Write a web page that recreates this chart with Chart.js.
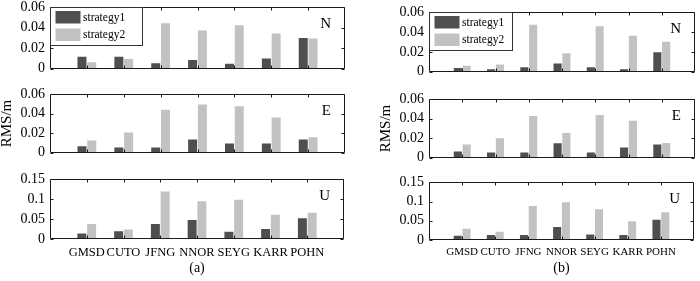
<!DOCTYPE html>
<html>
<head>
<meta charset="utf-8">
<script src="https://cdn.jsdelivr.net/npm/chart.js@4.4.1/dist/chart.umd.min.js"></script>
<style>
  html, body { margin: 0; padding: 0; background: #fff; }
  body { width: 700px; height: 281px; position: relative; overflow: hidden; }
  .cell { position: absolute; }
  canvas { display: block; }
</style>
</head>
<body>
<script>
// stations on the x axis
const stations = ['GMSD', 'CUTO', 'JFNG', 'NNOR', 'SEYG', 'KARR', 'POHN'];
const seriesNames = ['strategy1', 'strategy2'];

// y tick values
const smallTicks = [0, 0.02, 0.04, 0.06];
const bigTicks = [0, 0.05, 0.1, 0.15];

// panel (a) RMS values, m
const aN1 = [0.0115, 0.0115, 0.0053, 0.0085, 0.0047, 0.0100, 0.0300];
const aN2 = [0.0062, 0.0094, 0.0444, 0.0374, 0.0426, 0.0344, 0.0294];
const aE1 = [0.0065, 0.0052, 0.0052, 0.0135, 0.0095, 0.0095, 0.0135];
const aE2 = [0.0126, 0.0206, 0.0443, 0.0495, 0.0478, 0.0363, 0.0157];
const aU1 = [0.014, 0.0195, 0.0375, 0.0477, 0.018, 0.025, 0.052];
const aU2 = [0.0375, 0.024, 0.1195, 0.095, 0.099, 0.061, 0.066];

// panel (b) RMS values, m
const bN1 = [0.0036, 0.0024, 0.0045, 0.0082, 0.0045, 0.0024, 0.0197];
const bN2 = [0.0060, 0.0073, 0.0476, 0.0185, 0.0460, 0.0364, 0.0303];
const bE1 = [0.0064, 0.0052, 0.0052, 0.0147, 0.0052, 0.0104, 0.0135];
const bE2 = [0.0135, 0.0200, 0.0429, 0.0254, 0.0440, 0.0380, 0.0150];
const bU1 = [0.011, 0.0128, 0.0128, 0.0336, 0.0144, 0.0128, 0.0528];
const bU2 = [0.0296, 0.0216, 0.0888, 0.0984, 0.080, 0.0488, 0.072];

const darkGrey = '#4f4f4f';
const lightGrey = '#c2c2c2';

Chart.defaults.font.family = '"Liberation Serif", "Times New Roman", serif';
Chart.defaults.color = '#000';

// box around the plot with inward ticks on all four sides
const frame = {
    id: 'frame',
    afterDatasetsDraw(chart) {
        const { ctx, chartArea: a, scales: { x, y } } = chart;
        const L = Math.round(a.left) + 0.5, R = Math.round(a.right) - 0.5;
        const T = Math.round(a.top) + 0.5, B = Math.round(a.bottom) - 0.5;
        ctx.save();
        ctx.strokeStyle = '#1a1a1a';
        ctx.lineWidth = 1;
        ctx.beginPath();
        ctx.rect(L, T, R - L, B - T);
        stations.forEach((s, i) => {
            const px = Math.round(x.getPixelForValue(i + 1)) + 0.5;
            ctx.moveTo(px, T); ctx.lineTo(px, T + 3);
            ctx.moveTo(px, B); ctx.lineTo(px, B - 3);
        });
        y.ticks.forEach(t => {
            const py = Math.round(y.getPixelForValue(t.value)) + 0.5;
            ctx.moveTo(L, py); ctx.lineTo(L + 3, py);
            ctx.moveTo(R, py); ctx.lineTo(R - 3, py);
        });
        ctx.stroke();
        ctx.restore();
    }
};

// N / E / U letter in the top right corner
const cornerTag = {
    id: 'cornerTag',
    afterDraw(chart, args, opts) {
        const { ctx, chartArea: a } = chart;
        ctx.save();
        ctx.font = '15px "Liberation Serif"';
        ctx.fillStyle = '#000';
        ctx.textAlign = 'right';
        ctx.textBaseline = 'middle';
        ctx.fillText(opts.text, a.right - 14, a.top + 16.5);
        ctx.restore();
    }
};

// matlab-like legend box in the top left corner
const boxLegend = {
    id: 'boxLegend',
    afterDraw(chart, args, opts) {
        if (!opts.width) return;
        const { ctx, chartArea: a } = chart;
        const x0 = Math.round(a.left) + 0.5, y0 = Math.round(a.top) + 0.5;
        ctx.save();
        ctx.fillStyle = '#fff';
        ctx.fillRect(x0, y0, opts.width, 38);
        ctx.strokeStyle = '#333';
        ctx.lineWidth = 1;
        ctx.strokeRect(x0, y0, opts.width, 38);
        ctx.font = '11.5px "Liberation Serif"';
        ctx.textBaseline = 'middle';
        chart.data.datasets.forEach((ds, i) => {
            const sy = y0 + 3.5 + i * 17.5;
            ctx.fillStyle = ds.backgroundColor;
            ctx.fillRect(x0 + 5, sy, 25, 12.5);
            ctx.fillStyle = '#000';
            ctx.fillText(ds.label, x0 + 32.5, sy + 6.5);
        });
        ctx.restore();
    }
};

const panels = [
    { left: 0, top: -6, width: 350, height: 88, s1: aN1, s2: aN2, yt: smallTicks, tag: 'N', legend: 92 },
    { left: 0, top: 81, width: 350, height: 85, s1: aE1, s2: aE2, yt: smallTicks, tag: 'E', ylabel: 'RMS/m' },
    { left: 0, top: 166, width: 350, height: 115, s1: aU1, s2: aU2, yt: bigTicks, tag: 'U', xlab: '(a)', xh: 42, cat: 12.5 },
    { left: 379, top: -1, width: 321, height: 86, s1: bN1, s2: bN2, yt: smallTicks, tag: 'N', legend: 83 },
    { left: 379, top: 86, width: 321, height: 85, s1: bE1, s2: bE2, yt: smallTicks, tag: 'E', ylabel: 'RMS/m' },
    { left: 379, top: 169, width: 321, height: 112, s1: bU1, s2: bU2, yt: bigTicks, tag: 'U', xlab: '(b)', xh: 41, cat: 11 },
];

panels.forEach(p => {
    const cell = document.createElement('div');
    cell.className = 'cell';
    cell.style.left = p.left + 'px';
    cell.style.top = p.top + 'px';
    const canvas = document.createElement('canvas');
    canvas.width = p.width;
    canvas.height = p.height;
    cell.appendChild(canvas);
    document.body.appendChild(cell);

    const toPoints = arr => arr.map((v, i) => ({ x: i + 1, y: v }));
    const hasX = !!p.xlab;

    new Chart(canvas.getContext('2d'), {
        type: 'bar',
        data: {
            datasets: [
                { label: seriesNames[0], data: toPoints(p.s1), backgroundColor: darkGrey },
                { label: seriesNames[1], data: toPoints(p.s2), backgroundColor: lightGrey },
            ]
        },
        options: {
            responsive: false,
            animation: false,
            categoryPercentage: 0.53,
            barPercentage: 0.92,
            layout: { padding: { top: 10, right: 5, bottom: hasX ? 0 : 10, left: 0 } },
            plugins: {
                legend: { display: false },
                tooltip: { enabled: false },
                cornerTag: { text: p.tag },
                boxLegend: { width: p.legend || 0 },
            },
            scales: {
                x: {
                    type: 'linear',
                    display: hasX,
                    offset: false,
                    min: 0,
                    max: stations.length + 1,
                    grid: { display: false, drawTicks: false },
                    border: { display: false },
                    ticks: {
                        stepSize: 1,
                        autoSkip: false,
                        maxRotation: 0,
                        padding: 6,
                        font: { size: p.cat || 12 },
                        callback: v => stations[v - 1] || '',
                    },
                    title: { display: hasX, text: p.xlab || '', font: { size: 14 } },
                    afterFit: s => { s.height = p.xh || s.height; },
                },
                y: {
                    min: 0,
                    max: p.yt[p.yt.length - 1],
                    grid: { display: false, drawTicks: false },
                    border: { display: false },
                    afterBuildTicks: s => { s.ticks = p.yt.map(v => ({ value: v })); },
                    ticks: {
                        padding: 5,
                        autoSkip: false,
                        font: { size: 14 },
                        callback: v => String(v),
                    },
                    title: {
                        display: !!p.ylabel,
                        text: p.ylabel || '',
                        font: { size: 15, lineHeight: 1 },
                        padding: { top: 0, bottom: 0 },
                    },
                    afterFit: s => { s.width = 50; },
                }
            }
        },
        plugins: [frame, cornerTag, boxLegend]
    });
});
</script>
</body>
</html>
